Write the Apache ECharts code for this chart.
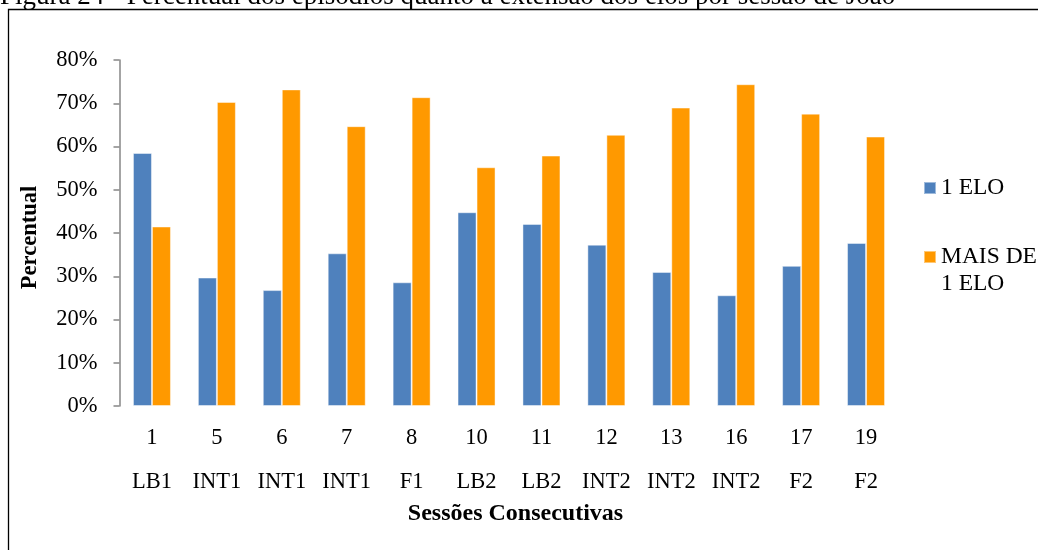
<!DOCTYPE html>
<html>
<head>
<meta charset="utf-8">
<script src="https://cdn.jsdelivr.net/npm/echarts@6/dist/echarts.min.js"></script>
<style>
  html, body { margin: 0; padding: 0; background: #ffffff; }
  #chart { width: 1038px; height: 550px; }
</style>
</head>
<body>
<div id="chart"></div>
<script>
// Sessões consecutivas e fase de cada sessão
const sessoes = ['1', '5', '6', '7', '8', '10', '11', '12', '13', '16', '17', '19'];
const fases = ['LB1', 'INT1', 'INT1', 'INT1', 'F1', 'LB2', 'LB2', 'INT2', 'INT2', 'INT2', 'F2', 'F2'];

// Percentual de episódios por extensão dos elos
const umElo = [58.5, 29.7, 26.8, 35.3, 28.6, 44.8, 42.1, 37.3, 31.0, 25.6, 32.4, 37.7];
const maisDeUmElo = [41.5, 70.3, 73.2, 64.7, 71.4, 55.2, 57.9, 62.7, 69.0, 74.4, 67.6, 62.3];

const serieNomes = ['1 ELO', 'MAIS DE 1 ELO'];
const tituloFigura = 'Figura 24 - Percentual dos episódios quanto à extensão dos elos por sessão de João';

const FONT = "'Liberation Serif', 'Times New Roman', serif";

const chart = echarts.init(document.getElementById('chart'), null, { renderer: 'canvas' });

chart.setOption({
  backgroundColor: '#ffffff',
  animation: false,
  textStyle: { fontFamily: FONT, color: '#000000' },
  grid: { left: 119.5, right: 139.5, top: 60, bottom: 144, containLabel: false },
  legend: [
    {
      data: [serieNomes[0]],
      orient: 'vertical',
      left: 923,
      top: 174.5,
      padding: 0,
      icon: 'rect',
      itemWidth: 12,
      itemHeight: 12,
      itemGap: 0,
      textStyle: { fontFamily: FONT, fontSize: 23.5, color: '#000000', lineHeight: 27 }
    },
    {
      data: [serieNomes[1]],
      orient: 'vertical',
      left: 923,
      top: 216.5,
      padding: 0,
      icon: 'rect',
      itemWidth: 12,
      itemHeight: 12,
      itemGap: 0,
      // first line left blank so the marker sits beside "MAIS DE"
      formatter: function (n) { return '\n' + n.replace('DE ', 'DE\n'); },
      textStyle: { fontFamily: FONT, fontSize: 23.5, color: '#000000', lineHeight: 27 }
    }
  ],
  xAxis: {
    type: 'category',
    data: sessoes,
    name: 'Sessões Consecutivas',
    nameLocation: 'middle',
    nameGap: 96,
    nameMoveOverlap: false,
    nameTextStyle: { fontFamily: FONT, fontSize: 24, fontWeight: 'bold', color: '#000000', padding: [0, 0, 0, 13] },
    axisLine: { show: false },
    axisTick: { show: false },
    axisLabel: {
      interval: 0,
      margin: 10,
      fontFamily: FONT,
      fontSize: 22.5,
      lineHeight: 44,
      color: '#000000',
      formatter: function (v, i) { return v + '\n' + fases[i]; }
    },
    splitLine: { show: false }
  },
  yAxis: {
    type: 'value',
    min: 0,
    max: 80,
    interval: 10,
    name: 'Percentual',
    nameLocation: 'middle',
    nameGap: 77.5,
    nameMoveOverlap: false,
    nameTextStyle: { fontFamily: FONT, fontSize: 22.5, fontWeight: 'bold', color: '#000000', padding: [0, 9, 0, 0] },
    axisLine: { show: true, lineStyle: { color: '#868686', width: 1.5 } },
    axisTick: { show: true, length: 6, lineStyle: { color: '#868686', width: 1.5 } },
    axisLabel: {
      margin: 22,
      fontFamily: FONT,
      fontSize: 22.5,
      color: '#000000',
      formatter: '{value}%'
    },
    splitLine: { show: false }
  },
  series: [
    {
      name: serieNomes[0],
      type: 'bar',
      data: umElo,
      barWidth: 19,
      barGap: '0%',
      itemStyle: { color: '#4F81BD', borderColor: 'rgba(255,255,255,0.45)', borderWidth: 1 }
    },
    {
      name: serieNomes[1],
      type: 'bar',
      data: maisDeUmElo,
      barWidth: 19,
      barGap: '0%',
      itemStyle: { color: '#FF9900', borderColor: 'rgba(255,255,255,0.45)', borderWidth: 1 }
    }
  ],
  graphic: [
    {
      type: 'text',
      left: 0,
      top: -17,
      silent: true,
      style: {
        text: tituloFigura,
        font: "27px 'Liberation Serif', 'Times New Roman', serif",
        fill: '#000000'
      }
    },
    {
      type: 'polyline',
      silent: true,
      shape: { points: [[8.5, 550], [8.5, 9.5], [1038, 9.5]] },
      style: { stroke: '#000000', lineWidth: 1.3, fill: null }
    }
  ]
});
</script>
</body>
</html>
